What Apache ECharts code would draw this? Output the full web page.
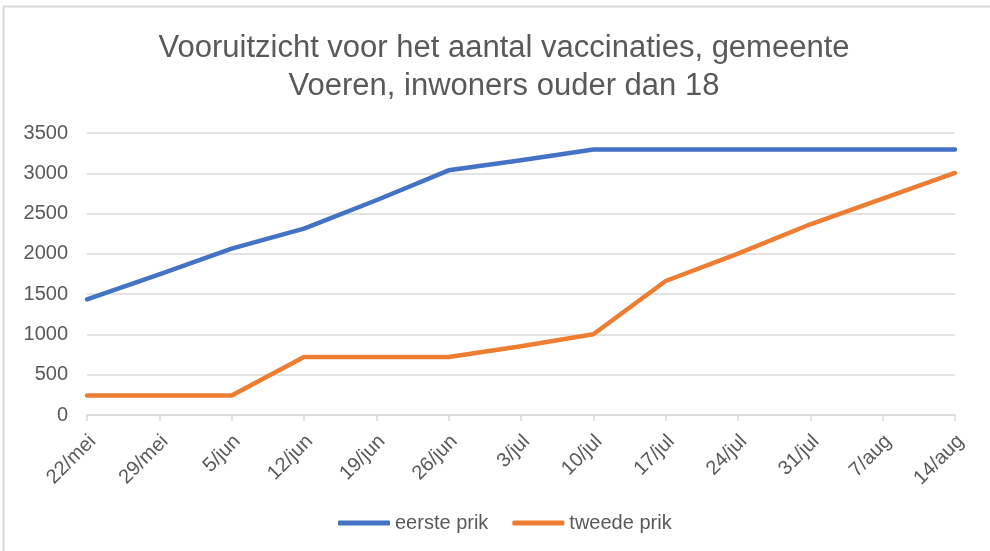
<!DOCTYPE html>
<html>
<head>
<meta charset="utf-8">
<script src="https://cdn.jsdelivr.net/npm/echarts@6/dist/echarts.min.js"></script>
<style>
html,body{margin:0;padding:0;background:#fff;}
#c{width:990px;height:551px;}
</style>
</head>
<body>
<div id="c"></div>
<script>
const categories = ['22/mei','29/mei','5/jun','12/jun','19/jun','26/jun','3/jul','10/jul','17/jul','24/jul','31/jul','7/aug','14/aug'];
const eerstePrik = [1436, 1746, 2065, 2313, 2665, 3037, 3161, 3294, 3294, 3294, 3294, 3294, 3294];
const tweedePrik = [241, 241, 241, 720, 720, 720, 853, 1002, 1663, 2003, 2367, 2686, 3004];
const yTicks = [0, 500, 1000, 1500, 2000, 2500, 3000, 3500];
const titleText = 'Vooruitzicht voor het aantal vaccinaties, gemeente\nVoeren, inwoners ouder dan 18';

const FONT = 'Liberation Sans';
const chart = echarts.init(document.getElementById('c'), null, {renderer: 'canvas'});
chart.setOption({
  backgroundColor: '#ffffff',
  animation: false,
  title: {
    text: titleText,
    left: 504,
    top: 29,
    padding: 0,
    textAlign: 'center',
    textStyle: {fontFamily: FONT, fontSize: 31, fontWeight: 'normal', color: '#595959', lineHeight: 38}
  },
  legend: {
    bottom: 13,
    left: 333,
    icon: 'roundRect',
    itemWidth: 52,
    itemHeight: 5,
    itemGap: 24,
    textStyle: {fontFamily: FONT, fontSize: 20, color: '#595959'},
    data: ['eerste prik', 'tweede prik']
  },
  grid: {left: 87, right: 35, top: 133, bottom: 136, containLabel: false},
  xAxis: {
    type: 'category',
    data: categories,
    boundaryGap: false,
    axisLine: {lineStyle: {color: '#d9d9d9', width: 1.5}},
    axisTick: {show: true, length: 6, lineStyle: {color: '#d9d9d9', width: 1.5}},
    axisLabel: {rotate: 45, fontFamily: FONT, fontSize: 20, color: '#595959', margin: 29, interval: 0, padding: [0, -8, 0, 0]}
  },
  yAxis: {
    type: 'value',
    min: yTicks[0],
    max: yTicks[yTicks.length - 1],
    interval: 500,
    axisLine: {show: false},
    axisTick: {show: false},
    splitLine: {lineStyle: {color: '#d9d9d9', width: 1.5}},
    axisLabel: {fontFamily: FONT, fontSize: 20, color: '#595959', margin: 19, formatter: function (v) { return String(v); }}
  },
  series: [
    {name: 'eerste prik', type: 'line', data: eerstePrik, symbol: 'none', color: '#4472C4',
     lineStyle: {width: 4.5, color: '#4472C4', cap: 'round', join: 'round'}},
    {name: 'tweede prik', type: 'line', data: tweedePrik, symbol: 'none', color: '#ED7D31',
     lineStyle: {width: 4.5, color: '#ED7D31', cap: 'round', join: 'round'}}
  ],
  graphic: [
    {type: 'line', shape: {x1: 3, y1: 6.5, x2: 990, y2: 6.5}, style: {stroke: '#d9d9d9', lineWidth: 2}, silent: true},
    {type: 'line', shape: {x1: 3.5, y1: 6, x2: 3.5, y2: 551}, style: {stroke: '#d9d9d9', lineWidth: 2}, silent: true}
  ]
});
</script>
</body>
</html>
